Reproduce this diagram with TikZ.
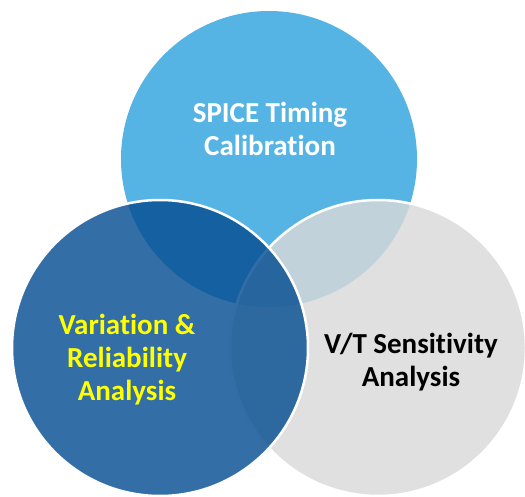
\documentclass[tikz,border=0pt]{standalone}
\usepackage{fontspec}
\setmainfont{Carlito}[Ligatures=NoCommon]
\definecolor{topblue}{RGB}{86,180,229}
\definecolor{greyc}{RGB}{217,217,217}
\definecolor{darkb}{RGB}{6,78,146}
\definecolor{yel}{RGB}{255,255,0}
\tikzset{
  circ/.style={circle, minimum size=296pt, inner sep=0pt},
  lbl/.style={align=center, font=\bfseries\fontsize{29}{33}\selectfont}
}
\begin{document}
\begin{tikzpicture}[x=1pt,y=-1pt]
\useasboundingbox (0,0) rectangle (525,497);
\node[circ, fill=topblue] (top) at (269,159) {};
\node[circ, fill=greyc, fill opacity=0.82, draw=white, line width=2.5pt] (right) at (378,348) {};
\node[circ, fill=darkb, fill opacity=0.82, draw=white, line width=2.5pt] (left) at (160,348) {};
\node[lbl, text=white] (tl) at (270,129) {SPICE Timing\\Calibration};
\node[lbl, text=yel] (ll) at (127,360) {Variation \&\\Reliability\\Analysis};
\node[lbl, text=black] (rl) at (411,362) {V/T Sensitivity\\Analysis};
\end{tikzpicture}
\end{document}
